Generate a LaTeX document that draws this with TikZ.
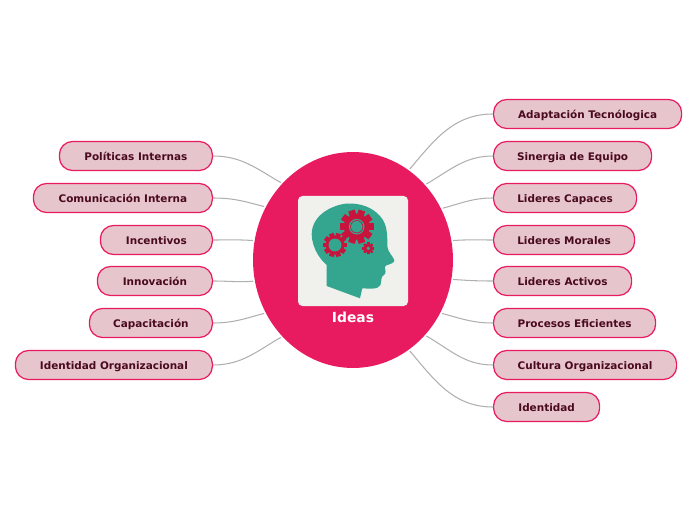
\documentclass[tikz,border=0pt]{standalone}
\usepackage{fontspec}
\setmainfont{DejaVu Sans}
\usepackage{xcolor}
\usetikzlibrary{shapes.geometric}

\definecolor{cHub}{RGB}{233,27,96}
\definecolor{cFill}{RGB}{230,197,204}
\definecolor{cText}{RGB}{74,10,30}
\definecolor{cLink}{RGB}{176,176,176}
\definecolor{cCard}{RGB}{240,240,236}
\definecolor{cHead}{RGB}{52,165,142}
\definecolor{cGear}{RGB}{200,20,60}

\tikzset{
  idea/.style={draw=cHub,fill=cFill,line width=0.7pt,rounded corners=7.5pt,minimum height=0.58cm,
    minimum width=#1*0.02cm,inner xsep=0.3cm,inner ysep=0pt,text height=5.5pt,text depth=0.8pt,text=cText,
    font=\bfseries\fontsize{5.95}{7}\selectfont},
  link/.style={draw=cLink,line width=0.6pt},
}
% centre, tip radius, root radius, hole radius, teeth
\newcommand{\gearwheel}[5]{%
  \begin{scope}[shift={(#1)}]
    \fill[cGear] (0,0) circle (#3);
    \foreach \i in {1,...,#5}
      \fill[cGear,rotate=\i*360/#5] (#3-1,-#2*0.2) rectangle (#2,#2*0.2);
    \fill[cHead] (0,0) circle (#4);
  \end{scope}}

\begin{document}
\begin{tikzpicture}[x=0.02cm,y=-0.02cm]
  \useasboundingbox (0,0) rectangle (696,520);

  \node[ellipse,fill=cHub,minimum width=4cm,minimum height=4.32cm,inner sep=0pt,outer sep=1pt] (ideas) at (353,260) {};
  \fill[cCard,rounded corners=2.5pt] (298,196) rectangle (408,306);
  \fill[cHead] (326.7,286) -- (360,298.3) -- (362.3,288.3)
    .. controls (368,288.5) and (378,290) .. (380.5,285)
    .. controls (382,280) and (380,277) .. (385,274)
    .. controls (387,270) and (383,268) .. (386,265.5)
    .. controls (390,264) and (395,263) .. (394.3,260)
    .. controls (392,255) and (388,252) .. (387.5,247)
    .. controls (387,235) and (388,225) .. (380,216)
    .. controls (372,207) and (360,203) .. (347,203.5)
    .. controls (332,205) and (312,215) .. (311.7,234)
    .. controls (312,250) and (322,261) .. (326.7,265) -- cycle;
  \gearwheel{356.7,226.7}{17}{13}{7.8}{10}
  \draw[cGear,line width=0.35pt] (356.7,226.7) circle (6.2);
  \gearwheel{335,245}{12}{9.5}{6.5}{10}
  \gearwheel{368.3,248.3}{6}{4.7}{1.9}{8}
  \node[white,font=\bfseries\fontsize{7.9}{9}\selectfont] (ideaslabel) at (353,317) {Ideas};

  \node[idea=188,anchor=west] (adaptacion) at (493,114) {Adaptación Tecnólogica};
  \node[idea=158,anchor=west] (sinergia) at (493,156) {Sinergia de Equipo};
  \node[idea=143,anchor=west] (capaces) at (493,198) {Lideres Capaces};
  \node[idea=141,anchor=west] (morales) at (493,240) {Lideres Morales};
  \node[idea=138,anchor=west] (activos) at (493,281) {Lideres Activos};
  \node[idea=162,anchor=west] (procesos) at (493,323) {Procesos Eficientes};
  \node[idea=183,anchor=west] (cultura) at (493,365) {Cultura Organizacional};
  \node[idea=106,anchor=west] (identidad) at (493,407) {Identidad};

  \node[idea=153,anchor=east] (politicas) at (213,156) {Políticas Internas};
  \node[idea=179,anchor=east] (comunicacion) at (213,198) {Comunicación Interna};
  \node[idea=112,anchor=east] (incentivos) at (213,240) {Incentivos};
  \node[idea=115,anchor=east] (innovacion) at (213,281) {Innovación};
  \node[idea=123,anchor=east] (capacitacion) at (213,323) {Capacitación};
  \node[idea=197,anchor=east] (organizacional) at (213,365) {Identidad Organizacional};

  % anchor on the hub / angle of arrival
  \foreach \n/\a/\b in {adaptacion/58/50,sinergia/46/30,capaces/30/15,morales/11/4,activos/-11/-4,procesos/-31/-15,cultura/-46/-30,identidad/-58/-50}
    \draw[link] (\n.west) to[out=180,in=\b] (ideas.\a);
  \foreach \n/\a/\b in {politicas/133/150,comunicacion/149/165,incentivos/169/176,innovacion/192/184,capacitacion/211/195,organizacional/227/210}
    \draw[link] (\n.east) to[out=0,in=\b] (ideas.\a);
\end{tikzpicture}
\end{document}
